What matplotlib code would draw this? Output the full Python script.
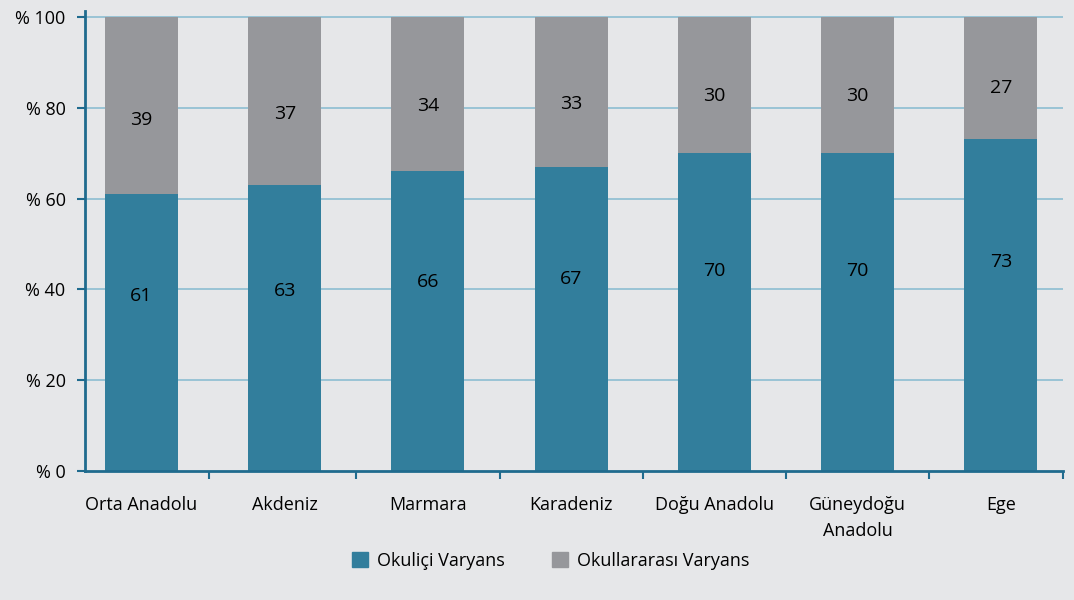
import matplotlib.pyplot as plt
import numpy as np
from matplotlib.patches import Patch

regions = ["Orta Anadolu", "Akdeniz", "Marmara", "Karadeniz",
           "Doğu Anadolu", "Güneydoğu\nAnadolu", "Ege"]
okulici = [61, 63, 66, 67, 70, 70, 73]
okullararasi = [39, 37, 34, 33, 30, 30, 27]

teal = '#327e9c'
grey = '#96979b'
axcol = '#1f6b8e'
bg = '#e6e7e9'

plt.rcParams['font.family'] = ['Open Sans', 'DejaVu Sans']

fig = plt.figure(figsize=(10.74, 6), dpi=100, facecolor=bg)
ax = fig.add_axes([0.0791, 0.215, 0.9107, 0.7667])
ax.set_facecolor(bg)

ind = np.arange(len(regions))
width = 0.51

ax.bar(ind, okulici, width, color=teal, zorder=3)
ax.bar(ind, okullararasi, width, bottom=okulici, color=grey, zorder=3)

# labels sit a bit off-centre in the original
for i in ind:
    ax.text(i, okulici[i] * 0.63, str(okulici[i]), ha='center', va='center',
            fontsize=14, color='black', zorder=4)
    ax.text(i, okulici[i] + okullararasi[i] * 0.42, str(okullararasi[i]),
            ha='center', va='center', fontsize=14, color='black', zorder=4)

ax.set_xlim(-0.395, 6.435)
ax.set_ylim(0, 101.3)

for g in [20, 40, 60, 80, 100]:
    ax.axhline(g, color='#8dbdd2', lw=1.2, zorder=1)

ax.set_yticks([0, 20, 40, 60, 80, 100])
ax.set_yticklabels(['% 0', '% 20', '% 40', '% 60', '% 80', '% 100'], fontsize=13)

ax.set_xticks(ind)
ax.set_xticklabels(regions, fontsize=13, linespacing=1.6)
ax.tick_params(axis='x', length=0, pad=18)
ax.set_xticks([0.47, 1.5, 2.5, 3.5, 4.5, 5.5, 6.435], minor=True)
ax.tick_params(axis='x', which='minor', length=6, width=1.5, color=axcol, direction='out')
ax.tick_params(axis='y', length=6, width=1.5, color=axcol, direction='out', pad=8)

for s in ['top', 'right']:
    ax.spines[s].set_visible(False)
for s in ['left', 'bottom']:
    ax.spines[s].set_color(axcol)
    ax.spines[s].set_linewidth(2)
    ax.spines[s].set_zorder(5)

handles = [Patch(color=teal, label='Okuliçi Varyans'),
           Patch(color=grey, label='Okullararası Varyans')]
fig.legend(handles=handles, loc='center', bbox_to_anchor=(0.513, 0.065), ncol=2,
           frameon=False, fontsize=13, handlelength=0.9, handleheight=0.9,
           handletextpad=0.5, columnspacing=2.6)

plt.savefig('out.png', dpi=100, facecolor=bg)
